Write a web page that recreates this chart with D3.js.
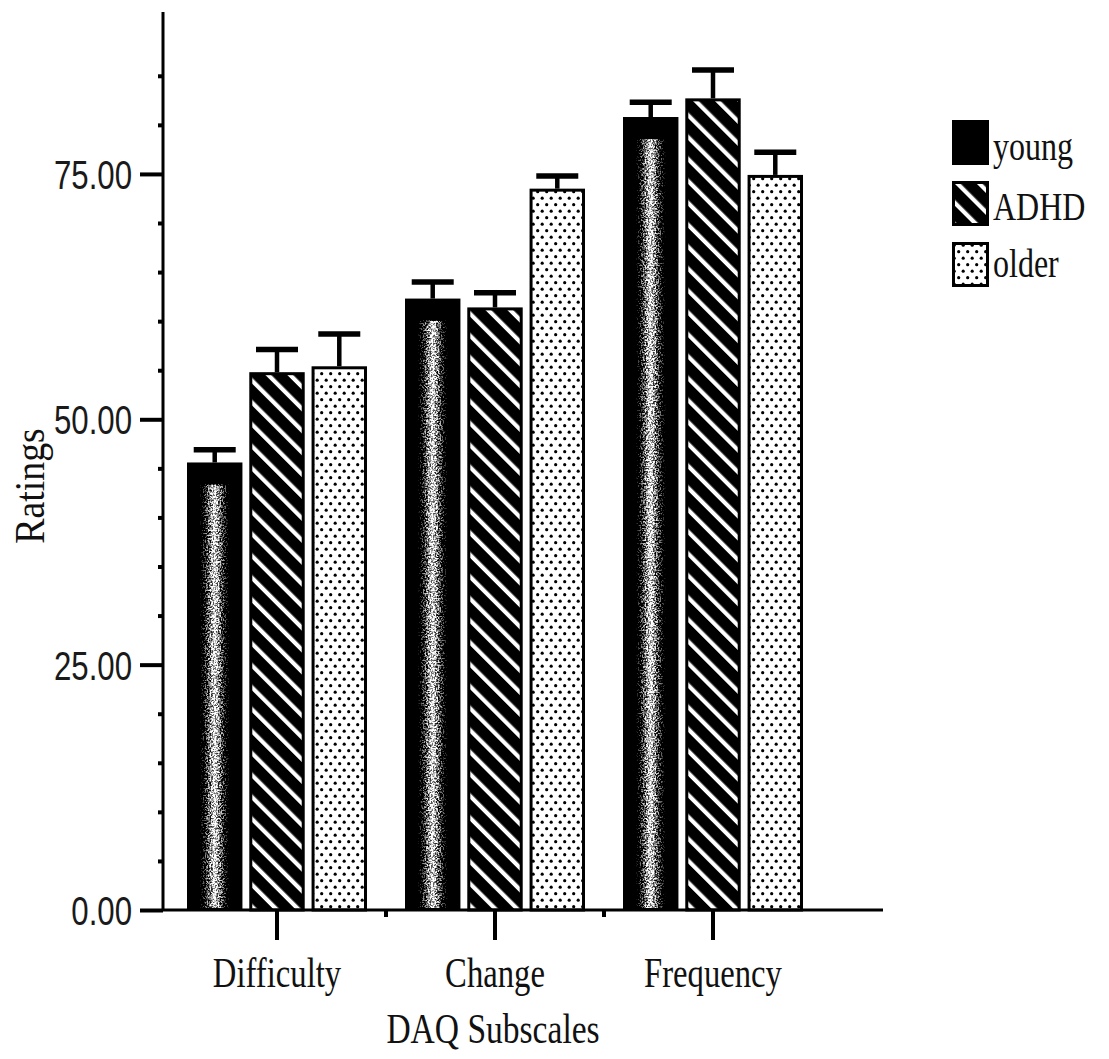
<!DOCTYPE html>
<html>
<head>
<meta charset="utf-8">
<script src="https://cdn.jsdelivr.net/npm/d3@7"></script>
<style>
  html, body { margin: 0; padding: 0; background: #ffffff; }
  svg { display: block; }
</style>
</head>
<body>
<svg id="chart" width="1109" height="1059"></svg>
<script>
// DAQ subscale ratings by group (bar = mean, whisker = +1 SE)
const categories = ["Difficulty", "Change", "Frequency"];
const seriesNames = ["young", "ADHD", "older"];
const youngMean = [45.6, 62.3, 80.8];
const youngErr  = [1.3, 1.7, 1.5];
const adhdMean  = [54.8, 61.4, 82.7];
const adhdErr   = [2.3, 1.5, 2.9];
const olderMean = [55.4, 73.5, 74.9];
const olderErr  = [3.3, 1.3, 2.3];
const majorTicks = [0, 25, 50, 75];
const minorTicks = [5, 10, 15, 20, 30, 35, 40, 45, 55, 60, 65, 70, 80, 85];
const xTitle = "DAQ Subscales";
const yTitle = "Ratings";

const means = { young: youngMean, ADHD: adhdMean, older: olderMean };
const errs  = { young: youngErr,  ADHD: adhdErr,  older: olderErr };

const svg = d3.select("#chart");
const defs = svg.append("defs");

// ---- fills -------------------------------------------------------------
// diagonal white stripes on black
const hatch = defs.append("pattern")
  .attr("id", "hatch").attr("patternUnits", "userSpaceOnUse")
  .attr("width", 15.5).attr("height", 15.5)
  .attr("patternTransform", "rotate(-45)");
hatch.append("rect").attr("width", 15.5).attr("height", 15.5).attr("fill", "#000");
hatch.append("rect").attr("x", 0).attr("width", 4.2).attr("height", 15.5).attr("fill", "#fff");

// staggered dot screen
const dots = defs.append("pattern")
  .attr("id", "dots").attr("patternUnits", "userSpaceOnUse")
  .attr("width", 9).attr("height", 13);
dots.append("rect").attr("width", 9).attr("height", 13).attr("fill", "#fff");
dots.append("circle").attr("cx", 2.2).attr("cy", 3.2).attr("r", 1.6).attr("fill", "#000");
dots.append("circle").attr("cx", 6.7).attr("cy", 9.7).attr("r", 1.6).attr("fill", "#000");

// grainy light column through the middle of the dark bars
const glow = defs.append("linearGradient").attr("id", "glow")
  .attr("x1", "0").attr("x2", "1").attr("y1", "0").attr("y2", "0");
[[0, 0], [0.18, 0], [0.5, 0.9], [0.82, 0], [1, 0]].forEach(([o, a]) =>
  glow.append("stop").attr("offset", o).attr("stop-color", "#fff").attr("stop-opacity", a));

const grain = defs.append("filter").attr("id", "grain")
  .attr("x", 0).attr("y", 0).attr("width", 1).attr("height", 1);
grain.append("feTurbulence").attr("type", "fractalNoise")
  .attr("baseFrequency", 0.6).attr("numOctaves", 3).attr("seed", 4).attr("result", "noise");
grain.append("feColorMatrix").attr("in", "noise").attr("type", "matrix")
  .attr("values", "0 0 0 0 1  0 0 0 0 1  0 0 0 0 1  3 0 0 0 -1")
  .attr("result", "n2");
grain.append("feComposite").attr("in", "SourceGraphic").attr("in2", "n2")
  .attr("operator", "arithmetic").attr("k1", 0).attr("k2", 1.6).attr("k3", 1).attr("k4", -1);

// ---- scales ------------------------------------------------------------
const y = d3.scaleLinear().domain([0, 91.5]).range([910, 12]);
const x0 = d3.scaleBand().domain(categories).range([168, 822]);
const x1 = d3.scaleBand().domain(seriesNames).range([-90, 90]).paddingInner(0.11);
const center = c => x0(c) + x0.bandwidth() / 2;

const serif = "'Liberation Serif', 'DejaVu Serif', serif";
const sans = "'Liberation Sans', Arimo, 'DejaVu Sans', sans-serif";

// ---- bars --------------------------------------------------------------
const rows = [];
categories.forEach((c, i) => seriesNames.forEach(s =>
  rows.push({ cat: c, s, v: means[s][i], e: errs[s][i] })));

const bars = svg.append("g");
rows.forEach(d => {
  const bx = center(d.cat) + x1(d.s);
  const bw = x1.bandwidth();
  const top = y(d.v), h = y(0) - y(d.v);
  if (d.s === "young") {
    bars.append("rect").attr("x", bx).attr("y", top).attr("width", bw).attr("height", h)
      .attr("fill", "#000");
    bars.append("rect").attr("x", bx + 4).attr("y", top + 22).attr("width", bw - 8).attr("height", h - 24)
      .attr("fill", "url(#glow)").attr("filter", "url(#grain)");
  } else {
    bars.append("rect").attr("x", bx + 1.5).attr("y", top + 1.5)
      .attr("width", bw - 3).attr("height", h - 1.5)
      .attr("fill", d.s === "ADHD" ? "url(#hatch)" : "url(#dots)")
      .attr("stroke", "#000").attr("stroke-width", 3);
  }
  // upper whisker
  const cx = bx + bw / 2, ey = y(d.v + d.e);
  bars.append("line").attr("x1", cx).attr("x2", cx).attr("y1", top).attr("y2", ey)
    .attr("stroke", "#000").attr("stroke-width", 4.5);
  bars.append("line").attr("x1", cx - 21).attr("x2", cx + 21).attr("y1", ey).attr("y2", ey)
    .attr("stroke", "#000").attr("stroke-width", 5.5);
});

// ---- y axis ------------------------------------------------------------
const yMinor = svg.append("g").attr("transform", "translate(163,0)")
  .call(d3.axisLeft(y).tickValues(minorTicks).tickSize(5).tickSizeOuter(0).tickFormat(""));
yMinor.select(".domain").remove();
yMinor.selectAll(".tick line").attr("stroke", "#000").attr("stroke-width", 4);

const labelSqueeze = 0.78;
const yMajor = svg.append("g").attr("transform", "translate(163,0)")
  .call(d3.axisLeft(y).tickValues(majorTicks).tickSize(23).tickSizeOuter(0)
    .tickFormat(d3.format(".2f")));
yMajor.select(".domain").remove();
yMajor.selectAll(".tick line").attr("stroke", "#000").attr("stroke-width", 4);
yMajor.selectAll(".tick text")
  .attr("font-family", sans).attr("font-size", 40).attr("fill", "#1a1a1a")
  .attr("x", -31 / labelSqueeze).attr("dy", "0.36em")
  .attr("transform", `scale(${labelSqueeze},1)`);

svg.append("line").attr("x1", 163).attr("x2", 163).attr("y1", y(0)).attr("y2", y(91.5))
  .attr("stroke", "#000").attr("stroke-width", 3);

// ---- x axis ------------------------------------------------------------
const xAxis = svg.append("g").attr("transform", `translate(0,${y(0)})`)
  .call(d3.axisBottom(x0).tickSize(30).tickSizeOuter(0).tickPadding(16));
xAxis.select(".domain").remove();
xAxis.selectAll(".tick line").attr("stroke", "#000").attr("stroke-width", 4);
xAxis.selectAll(".tick text")
  .attr("font-family", serif).attr("font-size", 43).attr("fill", "#111")
  .attr("dy", "0.71em").attr("transform", "scale(0.76,1)");

// short marks between the subscales
const bounds = categories.slice(1).map(c => x0(c));
svg.append("g").selectAll("line").data(bounds).join("line")
  .attr("x1", d => d).attr("x2", d => d).attr("y1", y(0)).attr("y2", y(0) + 7)
  .attr("stroke", "#000").attr("stroke-width", 4);

svg.append("line").attr("x1", 163).attr("x2", 883).attr("y1", y(0)).attr("y2", y(0))
  .attr("stroke", "#000").attr("stroke-width", 3);

// ---- titles ------------------------------------------------------------
svg.append("text").attr("font-family", serif).attr("font-size", 43).attr("fill", "#111")
  .attr("text-anchor", "middle")
  .attr("transform", `translate(${center("Change") - 2},1043) scale(0.78,1)`)
  .text(xTitle);

svg.append("text").attr("font-family", serif).attr("font-size", 43).attr("fill", "#111")
  .attr("text-anchor", "middle")
  .attr("transform", "translate(44,486) rotate(-90) scale(0.88,1)")
  .text(yTitle);

// ---- legend ------------------------------------------------------------
const legend = svg.append("g").attr("transform", "translate(952,120)");
seriesNames.forEach((s, i) => {
  const g = legend.append("g").attr("transform", `translate(0,${i * 61})`);
  if (s === "young") {
    g.append("rect").attr("width", 37).attr("height", 45).attr("fill", "#000");
  } else {
    g.append("rect").attr("x", 1.5).attr("y", 1.5).attr("width", 34).attr("height", 42)
      .attr("fill", s === "ADHD" ? "url(#hatch)" : "url(#dots)")
      .attr("stroke", "#000").attr("stroke-width", 3);
  }
  g.append("text").attr("font-family", serif).attr("font-size", 40).attr("fill", "#111")
    .attr("transform", `translate(41,${i === 0 ? 40 : (i === 1 ? 39 : 35)}) scale(0.8,1)`)
    .text(s);
});
</script>
</body>
</html>
